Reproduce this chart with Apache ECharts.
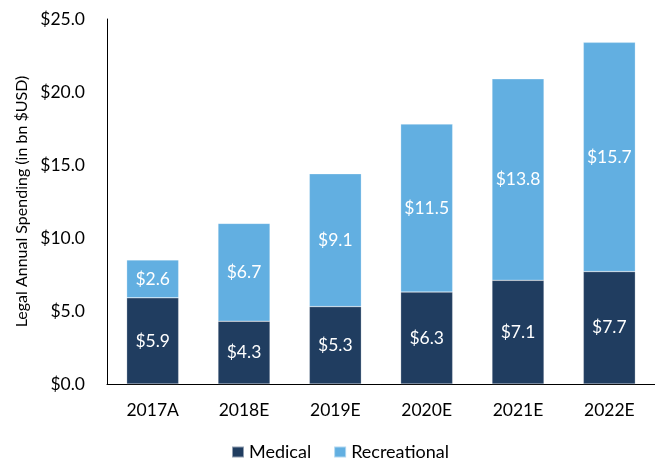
<!DOCTYPE html>
<html>
<head>
<meta charset="utf-8">
<script src="https://cdn.jsdelivr.net/npm/echarts@6/dist/echarts.min.js"></script>
<style>
  html, body { margin: 0; padding: 0; background: #fff; }
  #chart { width: 655px; height: 461px; }
</style>
</head>
<body>
<div id="chart"></div>
<script>
// spending data, bn USD
const years = ['2017A', '2018E', '2019E', '2020E', '2021E', '2022E'];
const medical = [5.9, 4.3, 5.3, 6.3, 7.1, 7.7];
const recreational = [2.6, 6.7, 9.1, 11.5, 13.8, 15.7];

const FONT = 'Lato, "Open Sans", sans-serif';
const money = v => '$' + Number(v).toFixed(1);

const chart = echarts.init(document.getElementById('chart'));

const barStyle = color => ({
  color: color,
  borderColor: 'rgba(255,255,255,0.5)',
  borderWidth: 0.5
});

chart.setOption({
  animation: false,
  textStyle: { fontFamily: FONT },
  grid: { left: 107, top: 19, width: 558, height: 365 },
  legend: {
    top: 438,
    left: 226,
    icon: 'rect',
    itemWidth: 12,
    itemHeight: 11,
    itemGap: 22,
    textStyle: { fontSize: 18, color: '#000', fontFamily: FONT }
  },
  xAxis: {
    type: 'category',
    data: years,
    axisLine: { lineStyle: { color: '#000', width: 1 } },
    axisTick: { show: false },
    axisLabel: { fontSize: 17.5, color: '#000', margin: 17, fontFamily: FONT }
  },
  yAxis: {
    type: 'value',
    min: 0,
    max: 25,
    interval: 5,
    name: 'Legal Annual Spending (in bn $USD)',
    nameLocation: 'middle',
    nameGap: 76,
    nameTextStyle: { fontSize: 16, color: '#000', fontFamily: FONT },
    axisLine: { show: true, lineStyle: { color: '#000', width: 1 } },
    axisTick: { show: false },
    splitLine: { show: false },
    axisLabel: { fontSize: 17.5, color: '#000', margin: 22, formatter: money, fontFamily: FONT }
  },
  series: [
    {
      name: 'Medical',
      type: 'bar',
      stack: 'total',
      barWidth: 52,
      data: medical,
      itemStyle: barStyle('#203D60'),
      label: { show: true, color: '#fff', fontSize: 17.5, formatter: p => money(p.value), fontFamily: FONT }
    },
    {
      name: 'Recreational',
      type: 'bar',
      stack: 'total',
      barWidth: 52,
      data: recreational,
      itemStyle: barStyle('#62AFE1'),
      label: { show: true, color: '#fff', fontSize: 17.5, formatter: p => money(p.value), fontFamily: FONT }
    }
  ]
});

window.addEventListener('resize', () => chart.resize());
</script>
</body>
</html>
